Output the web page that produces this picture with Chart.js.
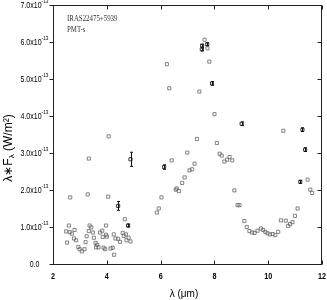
<!DOCTYPE html>
<html>
<head>
<meta charset="utf-8">
<script src="https://cdn.jsdelivr.net/npm/chart.js@4/dist/chart.umd.min.js"></script>
<style>
html,body{margin:0;padding:0;background:#fff;}
#wrap{width:327px;height:300px;position:relative;}
</style>
</head>
<body>
<div id="wrap"><canvas id="c" width="327" height="300"></canvas></div>
<script>
// Open-square photometry points (lambda in um, flux in 1e-13 W/m^2)
const openX = [2.64,3.29,4.05,4.67,2.59,2.49,2.62,2.70,2.80,2.78,2.86,2.52,3.25,3.21,3.36,3.42,3.33,3.48,3.52,3.58,3.64,3.75,3.83,3.97,3.97,3.85,4.00,4.26,4.32,4.42,4.49,4.59,4.63,4.71,4.81,4.73,4.88,2.94,2.99,3.07,3.17,3.60,3.69,3.88,3.94,4.14,4.22,4.27,3.33,4.07,
  5.86,5.93,6.03,6.56,6.60,6.68,6.80,6.89,7.07,7.17,7.26,6.41,6.99,7.35,8.09,8.00,7.44,6.32,6.23,7.81,7.63,7.74,8.19,8.27,8.37,8.47,8.56,8.66,
  8.74,8.86,8.93,9.11,9.20,9.30,9.40,9.49,9.60,9.73,9.81,9.89,9.97,10.06,10.16,10.26,10.37,10.47,10.65,10.74,10.81,10.90,10.99,11.09,11.46,11.56,11.63,10.56];
const openY = [1.80,1.88,1.82,1.21,1.04,0.88,0.86,0.82,0.92,0.69,0.64,0.58,0.75,0.59,1.04,0.99,0.89,0.85,0.71,0.57,0.52,0.85,0.90,1.04,0.79,0.73,0.74,0.80,0.69,0.68,0.60,0.84,0.76,0.80,0.71,0.64,0.61,0.46,0.40,0.34,0.40,0.45,0.45,0.44,0.40,0.42,0.44,0.25,2.85,3.45,
  1.39,1.50,1.80,2.01,2.04,1.97,2.19,2.34,2.53,2.56,2.71,2.80,3.01,3.38,3.27,4.05,4.66,4.75,5.40,5.47,6.06,5.83,2.98,2.93,2.77,2.82,2.89,2.80,
  1.99,1.59,1.59,1.16,1.00,0.89,0.85,0.84,0.90,0.96,0.92,0.87,0.83,0.80,0.81,0.78,0.87,1.18,1.17,1.03,1.08,1.13,1.30,1.50,2.28,2.01,1.92,3.60];
// Points with error bars
const errX = [4.42,4.88,4.79,6.13,7.53,7.54,7.73,7.91,9.01,11.27,11.37,11.19];
const errY = [1.57,2.83,1.04,2.62,5.80,5.90,5.94,4.88,3.79,3.63,3.09,2.22];
const errV = [0.12,0.19,0.04,0.06,0.04,0.04,0.04,0.05,0.05,0.05,0.05,0.04];
// Axis ticks
const xTicks = [2,4,6,8,10,12];
const yTicks = [0,1,2,3,4,5,6,7];
const yTickBase = ["0.0","1.0x10","2.0x10","3.0x10","4.0x10","5.0x10","6.0x10","7.0x10"];
const yTickExp = ["","-13","-13","-13","-13","-13","-13","-13"];
const sourceName = "IRAS22475+5939";
const subLabel = "PMT-s";

const openPts = openX.map((x,i)=>({x:x,y:openY[i]}));
const errPts = errX.map((x,i)=>({x:x,y:errY[i],e:errV[i]}));

const SANS = "'Liberation Sans',Arial,sans-serif";

function drawCond(ctx,t,x,y,sx){
  ctx.save(); ctx.translate(x,y); ctx.scale(sx,1); ctx.fillText(t,0,0); ctx.restore();
}

const framePlugin = {
  id:'frame',
  afterDatasetsDraw(chart){
    const ctx = chart.ctx, a = chart.chartArea;
    const xs = chart.scales.x, ys = chart.scales.y;
    ctx.save();
    // error bars
    ctx.strokeStyle = '#111'; ctx.lineWidth = 1;
    errPts.forEach(p=>{
      const px = Math.round(xs.getPixelForValue(p.x))+0.5;
      const y1 = ys.getPixelForValue(p.y+p.e), y2 = ys.getPixelForValue(p.y-p.e);
      ctx.beginPath();
      ctx.moveTo(px,y1); ctx.lineTo(px,y2);
      ctx.moveTo(px-1.5,y1); ctx.lineTo(px+1.5,y1);
      ctx.moveTo(px-1.5,y2); ctx.lineTo(px+1.5,y2);
      ctx.stroke();
    });
    // frame
    ctx.strokeStyle = '#222'; ctx.lineWidth = 1;
    const L = Math.round(a.left)+0.5, R = Math.round(a.right)-0.5, T = Math.round(a.top)+0.5, B = Math.round(a.bottom)+0.5;
    ctx.strokeRect(L,T,R-L,B-T);
    const tl = 4;
    ctx.beginPath();
    xTicks.forEach(v=>{
      const px = Math.round(xs.getPixelForValue(v))+0.5;
      ctx.moveTo(px,B); ctx.lineTo(px,B-tl);
      ctx.moveTo(px,T); ctx.lineTo(px,T+tl);
    });
    yTicks.forEach(v=>{
      const py = Math.round(ys.getPixelForValue(v))+0.5;
      ctx.moveTo(L,py); ctx.lineTo(L-tl,py);
      ctx.moveTo(R,py); ctx.lineTo(R-tl,py);
    });
    ctx.stroke();
    // x tick labels (bold, condensed)
    ctx.fillStyle = '#000';
    ctx.textBaseline = 'middle';
    ctx.font = "bold 9px " + SANS;
    xTicks.forEach(v=>{
      const t = String(v);
      const w = ctx.measureText(t).width*0.8;
      drawCond(ctx,t,xs.getPixelForValue(v)-w/2,277,0.8);
    });
    // y tick labels (condensed, with superscript exponent)
    yTicks.forEach((v,i)=>{
      const py = ys.getPixelForValue(v);
      ctx.font = "9px " + SANS;
      const base = yTickBase[i], ex = yTickExp[i];
      const bw = ctx.measureText(base).width*0.78;
      if(!ex){
        drawCond(ctx,base,39.5-bw,py+0.5,0.78);
      } else {
        ctx.font = "6px " + SANS;
        const ew = ctx.measureText(ex).width*0.8;
        const right = 48.5;
        drawCond(ctx,ex,right-ew,py-3.5,0.8);
        ctx.font = "9px " + SANS;
        drawCond(ctx,base,right-ew-bw,py+0.5,0.78);
      }
    });
    // annotations (condensed serif)
    ctx.fillStyle = '#333';
    ctx.font = "9px 'Liberation Serif',serif";
    ctx.textAlign = 'left';
    let m = ctx.measureText(sourceName).width;
    drawCond(ctx,sourceName,67,18.5,50.5/m);
    drawCond(ctx,subLabel,67,29.5,50.5/m);
    // x title
    ctx.fillStyle = '#000';
    ctx.font = "10px " + SANS;
    ctx.textAlign = 'center';
    ctx.fillText('\u03BB (\u03BCm)',184,294);
    // y title with subscript
    ctx.save();
    ctx.translate(9,148); ctx.rotate(-Math.PI/2);
    const f1 = "12px " + SANS, f2 = "8px " + SANS;
    const parts = [['\u03BB\u2217F',f1,0],['\u03BB',f2,3],[' (W/m\u00B2)',f1,0]];
    let tot = 0;
    parts.forEach(p=>{ctx.font=p[1]; tot += ctx.measureText(p[0]).width;});
    let cx = -tot/2;
    ctx.textAlign = 'left';
    parts.forEach(p=>{ctx.font=p[1]; ctx.fillText(p[0],cx,p[2]); cx += ctx.measureText(p[0]).width;});
    ctx.restore();
    ctx.restore();
  }
};

new Chart(document.getElementById('c'),{
  type:'scatter',
  data:{datasets:[
    {data:openPts, pointStyle:'rect', pointRadius:2.2, pointBorderWidth:0.8, pointBorderColor:'#666', pointBackgroundColor:'rgba(255,255,255,0)', showLine:false},
    {data:errPts, pointStyle:'rect', pointRadius:2.2, pointBorderWidth:0.9, pointBorderColor:'#222', pointBackgroundColor:'rgba(255,255,255,0)', showLine:false}
  ]},
  options:{
    responsive:false, animation:false,
    layout:{padding:{top:5,right:4,left:0,bottom:0}},
    plugins:{legend:{display:false},tooltip:{enabled:false}},
    scales:{
      x:{type:'linear',min:2,max:12,
        afterBuildTicks(s){s.ticks = xTicks.map(v=>({value:v}));},
        afterFit(s){s.height = 36;},
        grid:{display:false,drawTicks:false}, border:{display:false},
        ticks:{display:false}
      },
      y:{type:'linear',min:0,max:7,
        afterBuildTicks(s){s.ticks = yTicks.map(v=>({value:v}));},
        afterFit(s){s.width = 53;},
        grid:{display:false,drawTicks:false}, border:{display:false},
        ticks:{display:false}
      }
    }
  },
  plugins:[framePlugin]
});
</script>
</body>
</html>
